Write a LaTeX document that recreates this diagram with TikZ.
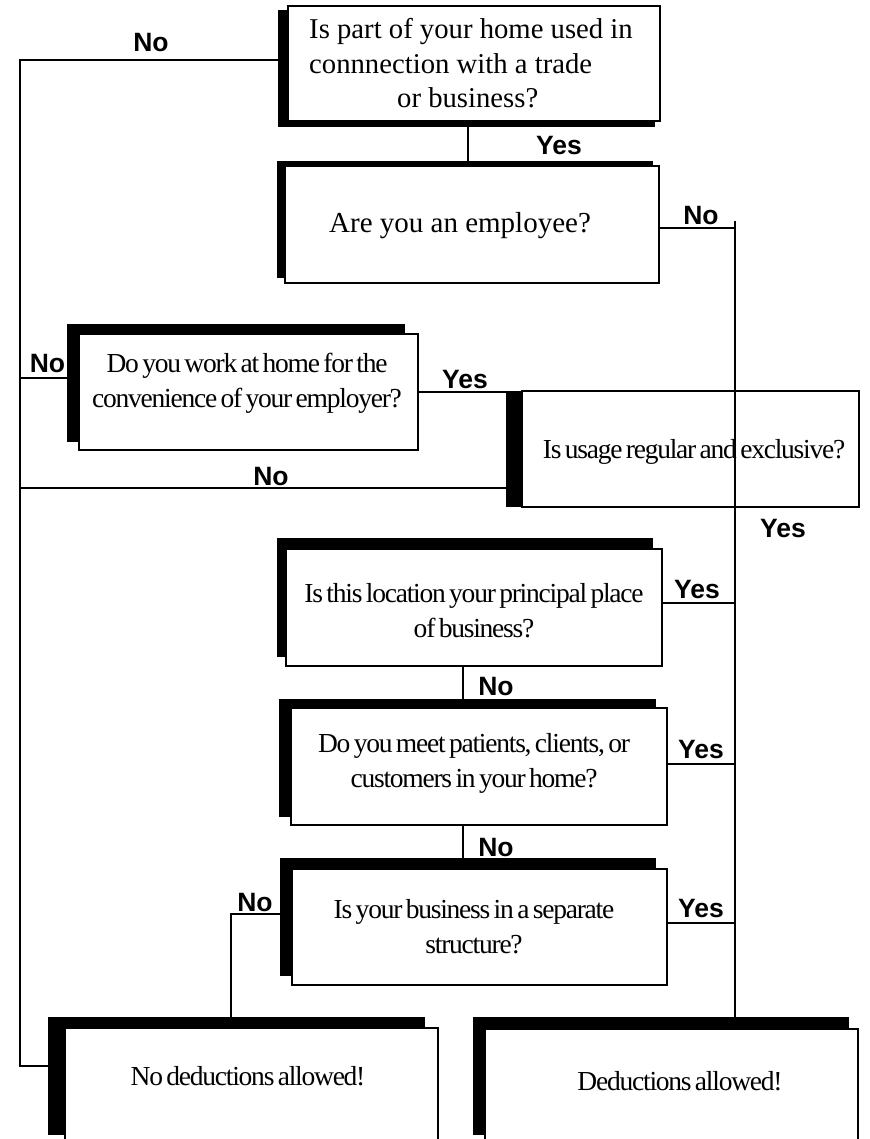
\documentclass[tikz,border=0pt]{standalone}
\usepackage{fontspec}
\setmainfont{Liberation Serif}
\newfontfamily\qnormal{Liberation Serif}
\newfontfamily\qcond{Liberation Serif}[LetterSpace=-4.5,WordSpace=0.6]
\newfontfamily\lblfont{Liberation Sans}
\tikzset{
  shadowbox/.style={fill=black, draw=none, inner sep=0pt, outer sep=0pt},
  qbox/.style={draw=black, line width=2pt, fill=white, inner sep=0pt, outer sep=0pt},
  conn/.style={draw=black, line width=2pt},
  qtext/.style={align=center, inner sep=0pt, anchor=base, font=\qcond\fontsize{27.5}{34.5}\selectfont},
  yn/.style={inner sep=0pt, anchor=base, font=\lblfont\bfseries\fontsize{26.5}{30}\selectfont},
}
\begin{document}
\begin{tikzpicture}[x=1pt,y=-1pt]
\useasboundingbox (0,0) rectangle (869,1139);
\fill[white] (0,0) rectangle (869,1139);
\clip (0,0) rectangle (869,1139);

% shadows
\node[shadowbox, minimum width=377, minimum height=117] (s1) at (466.5,68.5) {};
\node[shadowbox, minimum width=376, minimum height=117] (s2) at (465,219.5) {};
\node[shadowbox, minimum width=338, minimum height=118] (s3) at (236,383) {};
\node[shadowbox, minimum width=337, minimum height=116] (s4) at (674.5,449) {};
\node[shadowbox, minimum width=376, minimum height=119] (s5) at (465,597.5) {};
\node[shadowbox, minimum width=377, minimum height=118] (s6) at (467.5,758) {};
\node[shadowbox, minimum width=376, minimum height=118] (s7) at (468,917) {};
\node[shadowbox, minimum width=377, minimum height=118] (s8) at (236.5,1076) {};
\node[shadowbox, minimum width=376, minimum height=118] (s9) at (661,1076) {};

% boxes
\node[qbox, minimum width=372, minimum height=115] (b1) at (474,63.5) {};
\node[qbox, minimum width=374, minimum height=117] (b2) at (472,224.5) {};
\node[qbox, minimum width=339, minimum height=116] (b3) at (248.5,392) {};
\node[qbox, minimum width=337, minimum height=116] (b4) at (690.5,449) {};
\node[qbox, minimum width=376, minimum height=117] (b5) at (474,607.5) {};
\node[qbox, minimum width=376, minimum height=117] (b6) at (479,766.5) {};
\node[qbox, minimum width=375, minimum height=116] (b7) at (479.5,927) {};
\node[qbox, minimum width=373, minimum height=122] (b8) at (251.5,1089) {};
\node[qbox, minimum width=373, minimum height=122] (b9) at (671.5,1089.5) {};

% texts (base anchor = baseline of the last line)
\node[inner sep=0pt, align=left, anchor=base west, font=\qnormal\fontsize{28.7}{34.5}\selectfont] (t1) at (309,108)
  {Is part of your home used in\\connnection with a trade\\\hspace*{88pt}or business?};
\node[inner sep=0pt, anchor=base, font=\qnormal\fontsize{29}{34.5}\selectfont] (t2) at (460,233) {Are you an employee?};
\node[qtext] (t3) at (247,407) {Do you work at home for the\\convenience of your employer?};
\node[qtext] (t4) at (694,458) {Is usage regular and exclusive?};
\node[qtext] (t5) at (474,637) {Is this location your principal place\\of business?};
\node[qtext] (t6) at (474,787) {Do you meet patients, clients, or\\customers in your home?};
\node[qtext] (t7) at (474,953) {Is your business in a separate\\structure?};
\node[qtext] (t8) at (248,1085) {No deductions allowed!};
\node[qtext] (t9) at (680,1090) {Deductions allowed!};

% connectors
\coordinate (Ltop) at (20,60);
\coordinate (Lbot) at (20,1066);
\draw[conn] (Ltop -| s1.west) -- (Ltop) -- (Lbot) -- (Lbot -| s8.west);
\coordinate (L3) at (20,378);
\draw[conn] (L3) -- (L3 -| s3.west);
\coordinate (L4) at (20,488);
\draw[conn] (L4) -- (L4 -| s4.west);
\coordinate (V12) at (468,0);
\draw[conn] (b1.south -| V12) -- (s2.north -| V12);
\coordinate (Rtop) at (735,221);
\draw[conn] (Rtop) -- (Rtop |- b9.north);
\draw[conn] ([yshift=-3.5pt]b2.east) -- ([yshift=-3.5pt]b2.east -| Rtop);
\draw[conn] (b3.east) -- (b3.east -| s4.west);
\draw[conn] ([yshift=4.5pt]b5.east) -- ([yshift=4.5pt]b5.east -| Rtop);
\draw[conn] ([yshift=2.5pt]b6.east) -- ([yshift=2.5pt]b6.east -| Rtop);
\draw[conn] ([yshift=4pt]b7.east) -- ([yshift=4pt]b7.east -| Rtop);
\coordinate (V56) at (463,0);
\draw[conn] (b5.south -| V56) -- (s6.north -| V56);
\draw[conn] (b6.south -| V56) -- (s7.north -| V56);
\coordinate (N7) at (231,914);
\draw[conn] (N7 -| s7.west) -- (N7) -- (N7 |- s8.north);

% labels
\node[yn] (l1) at (151,52) {No};
\node[yn] (l2) at (559,155) {Yes};
\node[yn] (l3) at (701,225) {No};
\node[yn] (l4) at (47.5,372) {No};
\node[yn] (l5) at (465,388) {Yes};
\node[yn] (l6) at (271,485) {No};
\node[yn] (l7) at (783,537) {Yes};
\node[yn] (l8) at (697,598) {Yes};
\node[yn] (l9) at (496,695) {No};
\node[yn] (l10) at (701,758) {Yes};
\node[yn] (l11) at (496,856) {No};
\node[yn] (l12) at (701,917) {Yes};
\node[yn] (l13) at (255,911) {No};
\end{tikzpicture}
\end{document}
